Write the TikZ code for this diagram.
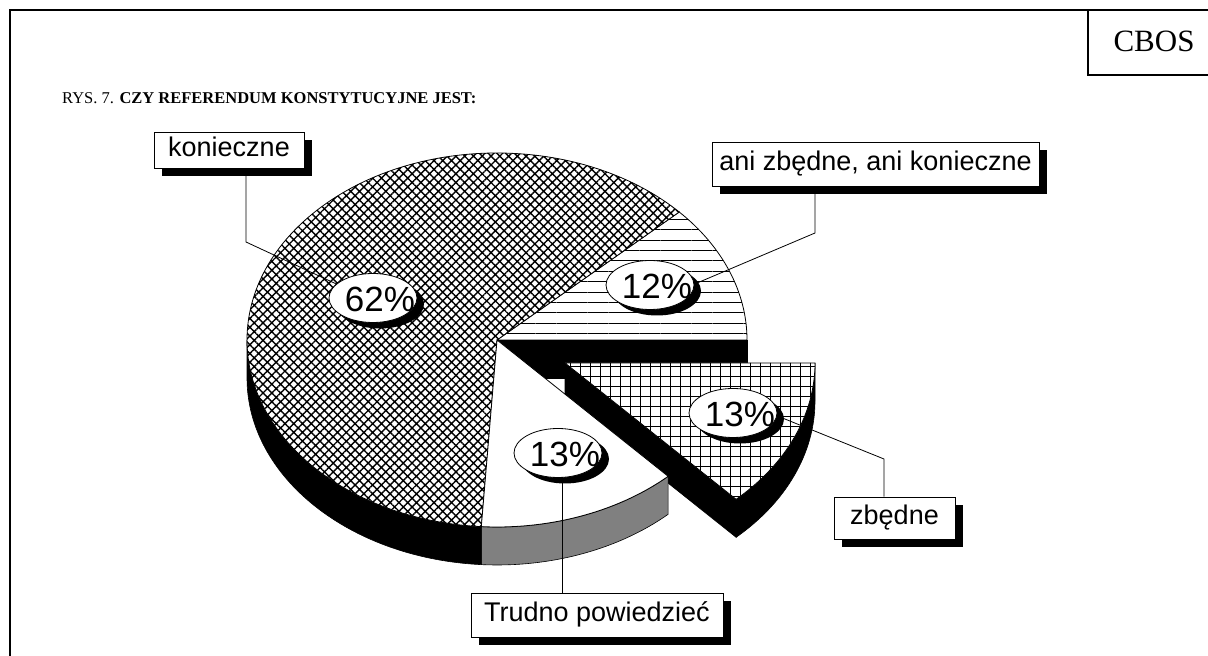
\documentclass[tikz,border=0pt]{standalone}
\usepackage{fontspec}
\setmainfont{Liberation Serif}
\setsansfont{Liberation Sans}
\usetikzlibrary{patterns.meta,shadows,calc,shapes.geometric}
\tikzset{
  side/.style={fill=black, draw=black, line width=0.6pt},
  graysid/.style={fill=black!50, draw=black, line width=0.6pt},
  topface/.style={preaction={fill=white}, pattern={#1}, draw=black, line width=0.8pt},
  plaintop/.style={fill=white, draw=black, line width=0.8pt},
  leader/.style={draw=black, line width=0.8pt},
  pctell/.style={ellipse, draw=black, fill=white, line width=0.8pt, minimum width=88pt, minimum height=49pt, inner sep=0pt,
     drop shadow={shadow xshift=7pt, shadow yshift=-6pt, fill=black, opacity=1}},
  pcttext/.style={inner sep=0pt, font=\sffamily\fontsize{35}{38}\selectfont},
  lbl/.style={draw=black, fill=white, line width=0.8pt, inner sep=0pt, align=center,
     font=\sffamily\fontsize{27}{30}\selectfont, text height=20pt, text depth=6pt,
     drop shadow={shadow xshift=8pt, shadow yshift=-8pt, fill=black, opacity=1}}
}
\begin{document}
\begin{tikzpicture}[x=1pt,y=1pt]
\useasboundingbox (0,0) rectangle (1208,656);
\clip (0,0) rectangle (1208,656);
\fill[white] (0,0) rectangle (1208,656);

% frame and CBOS box
\draw[line width=2.4pt] (10,-20) -- (10,646) -- (1230,646);
\draw[line width=2.4pt] (1088,646) -- (1088,581) -- (1230,581);
\node[font=\fontsize{31}{34}\selectfont] (cbos) at (1154,614.5) {CBOS};
\node[anchor=base west, inner sep=0pt, font=\fontsize{16.5}{19}\selectfont] (title) at (62,552) {RYS. 7. \textbf{CZY REFERENDUM KONSTYTUCYJNE JEST:}};

% pie geometry
\coordinate (C) at (497,316);
\coordinate (C2) at (565,293);
\def\rx{250}\def\ry{187}\def\dep{38}

% side faces
\path[side] (C) -- ($(C)+(\rx,0)$) -- ++(0,-\dep) -- ($(C)+(0,-\dep)$) -- cycle;
\path[side] (C2) -- ($(C2)+(313.2:\rx pt and \ry pt)$) -- ++(0,-\dep) -- ($(C2)+(0,-\dep)$) -- cycle;
\path[side] ($(C2)+(313.2:\rx pt and \ry pt)$) arc[start angle=313.2, end angle=360, x radius=\rx, y radius=\ry] -- ++(0,-\dep) arc[start angle=360, end angle=313.2, x radius=\rx, y radius=\ry] -- cycle;
\path[graysid] ($(C)+(266.4:\rx pt and \ry pt)$) arc[start angle=266.4, end angle=313.2, x radius=\rx, y radius=\ry] -- ++(0,-\dep) arc[start angle=313.2, end angle=266.4, x radius=\rx, y radius=\ry] -- cycle;
\path[side] ($(C)+(180:\rx pt and \ry pt)$) arc[start angle=180, end angle=266.4, x radius=\rx, y radius=\ry] -- ++(0,-\dep) arc[start angle=266.4, end angle=180, x radius=\rx, y radius=\ry] -- cycle;

% top faces
\path[topface={Lines[angle=0, distance=10.4pt, line width=0.9pt]}] (C) -- ($(C)+(\rx,0)$) arc[start angle=0, end angle=43.2, x radius=\rx, y radius=\ry] -- cycle;
\path[topface={Hatch[angle=45, distance=6.2pt, line width=1.4pt]}] (C) -- ($(C)+(43.2:\rx pt and \ry pt)$) arc[start angle=43.2, end angle=266.4, x radius=\rx, y radius=\ry] -- cycle;
\path[plaintop] (C) -- ($(C)+(266.4:\rx pt and \ry pt)$) arc[start angle=266.4, end angle=313.2, x radius=\rx, y radius=\ry] -- cycle;
\path[topface={Hatch[angle=0, distance=10pt, line width=0.9pt]}] (C2) -- ($(C2)+(313.2:\rx pt and \ry pt)$) arc[start angle=313.2, end angle=360, x radius=\rx, y radius=\ry] -- cycle;

% label boxes
\node[lbl, minimum width=150pt, minimum height=36pt] (lkon) at (229,506) {konieczne};
\node[lbl, minimum width=327pt, minimum height=44pt] (lani) at (875.5,492) {ani zbędne, ani konieczne};
\node[lbl, minimum width=121pt, minimum height=42pt] (lzb) at (894.5,138) {zbędne};
\node[lbl, minimum width=252pt, minimum height=44pt] (ltr) at (597,41) {Trudno powiedzieć};

% leaders
\coordinate (kbend) at (246,414);
\coordinate (kend) at (345,368);
\coordinate (abend) at (815,423);
\coordinate (aend) at (690,370);
\coordinate (zbend) at (884,197);
\coordinate (zend) at (770,243);
\coordinate (tend) at (562,210);
\draw[leader] (lkon.south -| kbend) -- (kbend) -- (kend);
\draw[leader] (lani.south -| abend) -- (abend) -- (aend);
\draw[leader] (lzb.north -| zbend) -- (zbend) -- (zend);
\draw[leader] (ltr.north -| tend) -- (tend);

% percentage ellipses
\node[pctell] (e62) at (373,358) {};
\node[pcttext] (t62) at ($(e62)+(7,-1.5)$) {62\%};
\node[pctell] (e12) at (650,371) {};
\node[pcttext] (t12) at ($(e12)+(7,-1.5)$) {12\%};
\node[pctell] (ezb) at (733,243) {};
\node[pcttext] (tzb) at ($(ezb)+(7,-1.5)$) {13\%};
\node[pctell] (etr) at (558,203) {};
\node[pcttext] (ttr) at ($(etr)+(7,-1.5)$) {13\%};
\end{tikzpicture}
\end{document}
